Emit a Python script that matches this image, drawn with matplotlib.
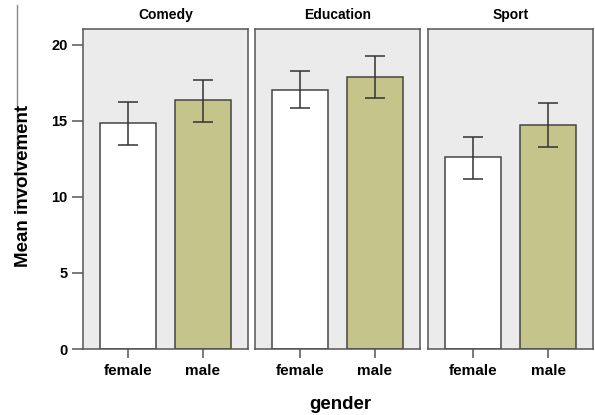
import matplotlib.pyplot as plt
from matplotlib.lines import Line2D

plt.rcParams['font.family'] = ['Liberation Sans', 'DejaVu Sans']

genres = ["Comedy", "Education", "Sport"]
genders = ["female", "male"]
means = {
    "Comedy": [14.85, 16.35],
    "Education": [17.05, 17.87],
    "Sport": [12.6, 14.76],
}
err_low = {
    "Comedy": [13.43, 14.92],
    "Education": [15.88, 16.48],
    "Sport": [11.2, 13.31],
}
err_high = {
    "Comedy": [16.27, 17.72],
    "Education": [18.26, 19.25],
    "Sport": [13.92, 16.18],
}
bar_colors = ["#ffffff", "#c5c58b"]

W, H = 595, 415
fig = plt.figure(figsize=(W / 100, H / 100), dpi=100)

edge = "#555555"
lefts = [83, 255, 428]
pw = 165
top, bottom = 29, 349

axes = []
for i, g in enumerate(genres):
    ax = fig.add_axes([lefts[i] / W, 1 - bottom / H, pw / W, (bottom - top) / H])
    ax.set_facecolor("#ebebeb")
    x = list(range(len(genders)))
    m = means[g]
    lo = [m[k] - err_low[g][k] for k in x]
    hi = [err_high[g][k] - m[k] for k in x]
    ax.bar(x, m, width=0.75, color=bar_colors, edgecolor="#444444", linewidth=1.1, zorder=2)
    ax.errorbar(x, m, yerr=[lo, hi], fmt="none", ecolor="#333333", elinewidth=1.1,
                capsize=7, capthick=1.1, zorder=3)
    ax.set_xlim(-0.6, 1.6)
    ax.set_ylim(0, 21.05)
    ax.set_xticks(x)
    ax.set_xticklabels(genders, fontsize=11, fontweight="bold")
    ax.tick_params(axis="x", direction="out", length=6.5, width=1.1, color=edge, pad=4)
    for s in ax.spines.values():
        s.set_color(edge)
        s.set_linewidth(1.1)
    ax.set_title(g, fontsize=10, fontweight="bold", pad=7)
    if i == 0:
        ax.set_yticks([0, 5, 10, 15, 20])
        ax.tick_params(axis="y", direction="out", length=8, width=1.1, color=edge,
                       labelsize=10.5, pad=3)
        for lab in ax.get_yticklabels():
            lab.set_fontweight("bold")
    else:
        ax.set_yticks([])
    axes.append(ax)

fig.text(24 / W, 1 - 186 / H, "Mean involvement", rotation=90, ha="center", va="center",
         fontsize=13.5, fontweight="bold")
fig.text(340 / W, 1 - 404 / H, "gender", ha="center", va="center",
         fontsize=13.5, fontweight="bold")

# thin left rule
fig.add_artist(Line2D([17 / W, 17 / W], [1 - 5 / H, 1 - 213 / H], color="#888888", linewidth=1))

fig.savefig("out.png", dpi=100)
